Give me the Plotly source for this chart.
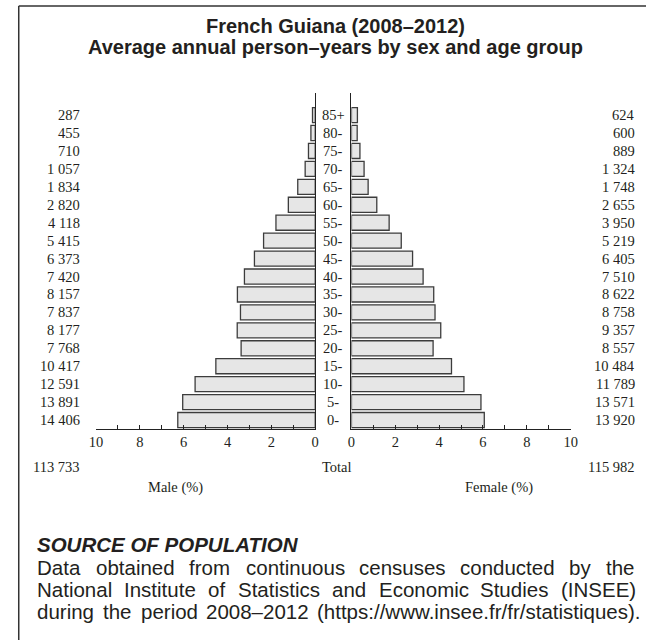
import plotly.graph_objects as go

# ---------------- data ----------------
ages = ["0-", "5-", "10-", "15-", "20-", "25-", "30-", "35-", "40-", "45-",
        "50-", "55-", "60-", "65-", "70-", "75-", "80-", "85+"]
male = [14406, 13891, 12591, 10417, 7768, 8177, 7837, 8157, 7420, 6373,
        5415, 4118, 2820, 1834, 1057, 710, 455, 287]
female = [13920, 13571, 11789, 10484, 8557, 9357, 8758, 8622, 7510, 6405,
          5219, 3950, 2655, 1748, 1324, 889, 600, 624]
total_male = 113733
total_female = 115982
x_ticks = [0, 2, 4, 6, 8, 10]

title_lines = ["French Guiana (2008\u20132012)",
               "Average annual person\u2013years by sex and age group"]
source_heading = "SOURCE OF POPULATION"
source_lines = [
    "Data obtained from continuous censuses conducted by the",
    "National Institute of Statistics and Economic Studies (INSEE)",
    "during the period 2008\u20132012 (https://www.insee.fr/fr/statistiques).",
]

# ---------------- helpers ----------------
W, H = 653, 640


def px(x):
    return x / W


def py(y):
    return 1 - y / H


def fmt(v):
    return f"{v:,}".replace(",", " ")


grand_total = total_male + total_female
male_pct = [v / grand_total * 100 for v in male]
female_pct = [v / grand_total * 100 for v in female]

SERIF = "Liberation Serif"
SANS = "Liberation Sans"
TXT = "#231f20"
SERIF_SIZE = 14.5

fig = go.Figure()
bar_style = dict(orientation="h", width=0.84, showlegend=False, hoverinfo="skip",
                 marker=dict(color="#e6e6e6", line=dict(color="#3c3c3c", width=1.3)))
fig.add_trace(go.Bar(y=ages, x=male_pct, xaxis="x", yaxis="y", **bar_style))
fig.add_trace(go.Bar(y=ages, x=female_pct, xaxis="x2", yaxis="y2", **bar_style))

y_dom = [py(429), py(93)]
y_range = [-0.5, 18.23]
common_x = dict(tickvals=x_ticks, ticks="inside", ticklen=4, tickcolor="#222",
                showline=True, linecolor="#222", linewidth=1, showgrid=False,
                zeroline=False, tickfont=dict(family=SERIF, size=SERIF_SIZE, color=TXT),
                minor=dict(dtick=1, tick0=0, ticks="inside", ticklen=4, tickcolor="#222"),
                fixedrange=True)
common_y = dict(type="category", categoryorder="array", categoryarray=ages,
                range=y_range, domain=y_dom, showline=True, linecolor="#222",
                linewidth=1, showticklabels=False, ticks="", showgrid=False,
                zeroline=False, fixedrange=True)

fig.update_layout(
    width=W, height=H, margin=dict(l=0, r=0, t=0, b=0),
    paper_bgcolor="white", plot_bgcolor="white",
    xaxis=dict(domain=[px(91), px(315)], range=[10, 0], anchor="y", **common_x),
    xaxis2=dict(domain=[px(352), px(576)], range=[0, 10], anchor="y2", **common_x),
    yaxis=dict(anchor="x", side="right", **common_y),
    yaxis2=dict(anchor="x2", side="left", **common_y),
    bargap=0.1,
)

ann = []
serif_font = dict(family=SERIF, size=SERIF_SIZE, color=TXT)
for a, m, f in zip(ages, male, female):
    ann.append(dict(x=px(77), y=a, xref="paper", yref="y", text=fmt(m),
                    xanchor="right", yanchor="middle", showarrow=False, font=serif_font))
    ann.append(dict(x=px(644), y=a, xref="paper", yref="y", text=fmt(f),
                    xanchor="right", yanchor="middle", showarrow=False, font=serif_font))
    ann.append(dict(x=px(333.5), y=a, xref="paper", yref="y", text=a,
                    xanchor="center", yanchor="middle", showarrow=False, font=serif_font))

ann.append(dict(x=px(77), y=py(467), xref="paper", yref="paper", text=fmt(total_male),
                xanchor="right", yanchor="middle", showarrow=False, font=serif_font))
ann.append(dict(x=px(644), y=py(467), xref="paper", yref="paper", text=fmt(total_female),
                xanchor="right", yanchor="middle", showarrow=False, font=serif_font))
ann.append(dict(x=px(337), y=py(467), xref="paper", yref="paper", text="Total",
                xanchor="center", yanchor="middle", showarrow=False, font=serif_font))
ann.append(dict(x=px(172), y=py(487), xref="paper", yref="paper", text="Male (%)",
                xanchor="center", yanchor="middle", showarrow=False, font=serif_font))
ann.append(dict(x=px(503), y=py(487), xref="paper", yref="paper", text="Female (%)",
                xanchor="center", yanchor="middle", showarrow=False, font=serif_font))

# title
title_font = dict(family=SANS, size=20, color=TXT, weight="bold")
for i, t in enumerate(title_lines):
    ann.append(dict(x=px(336), y=py(26 + 21 * i), xref="paper", yref="paper", text=t,
                    xanchor="center", yanchor="middle", showarrow=False, borderpad=0,
                    font=title_font))

# source heading
ann.append(dict(x=px(30), y=py(544), xref="paper", yref="paper",
                text=f"<b><i>{source_heading}</i></b>", xanchor="left", yanchor="middle",
                showarrow=False, borderpad=0,
                font=dict(family=SANS, size=20.5, color=TXT)))

# justified body text using Arial/Liberation Sans metrics
AW = {" ": 278, "(": 333, ")": 333, ".": 278, "/": 278, ":": 278, "\u2013": 556}
for c in "0123456789":
    AW[c] = 556
AW.update(dict(A=667, B=667, C=722, D=722, E=667, F=611, G=778, H=722, I=278, J=500,
               K=667, L=556, M=833, N=722, O=778, P=667, Q=778, R=722, S=667, T=611,
               U=722, V=667, W=944, X=667, Y=667, Z=611))
AW.update(dict(a=556, b=556, c=500, d=556, e=556, f=278, g=556, h=556, i=222, j=222,
               k=500, l=222, m=833, n=556, o=556, p=556, q=556, r=333, s=500, t=278,
               u=556, v=500, w=722, x=500, y=500, z=500))
BODY = 20.5
left, right = 30, 640
for li, line in enumerate(source_lines):
    words = line.split(" ")
    widths = [sum(AW.get(ch, 556) for ch in w) / 1000 * BODY for w in words]
    gap = (right - left - sum(widths)) / (len(words) - 1)
    xcur = left
    yy = py(567 + 22 * li)
    for w, wd in zip(words, widths):
        ann.append(dict(x=px(xcur), y=yy, xref="paper", yref="paper", text=w,
                        xanchor="left", yanchor="middle", showarrow=False, borderpad=0,
                        font=dict(family=SANS, size=BODY, color=TXT)))
        xcur += wd + gap

fig.update_layout(annotations=ann)

# frame (left and top edges)
fig.add_shape(type="line", xref="paper", yref="paper", x0=px(12), x1=px(653),
              y0=py(6), y1=py(6), line=dict(color="#333", width=1.5))
fig.add_shape(type="line", xref="paper", yref="paper", x0=px(12), x1=px(12),
              y0=py(6), y1=py(640), line=dict(color="#333", width=1.5))

fig.write_html("out.html", config={"displayModeBar": False},
               post_script="document.body.style.margin='0';"
                           "document.body.style.overflow='hidden';")
